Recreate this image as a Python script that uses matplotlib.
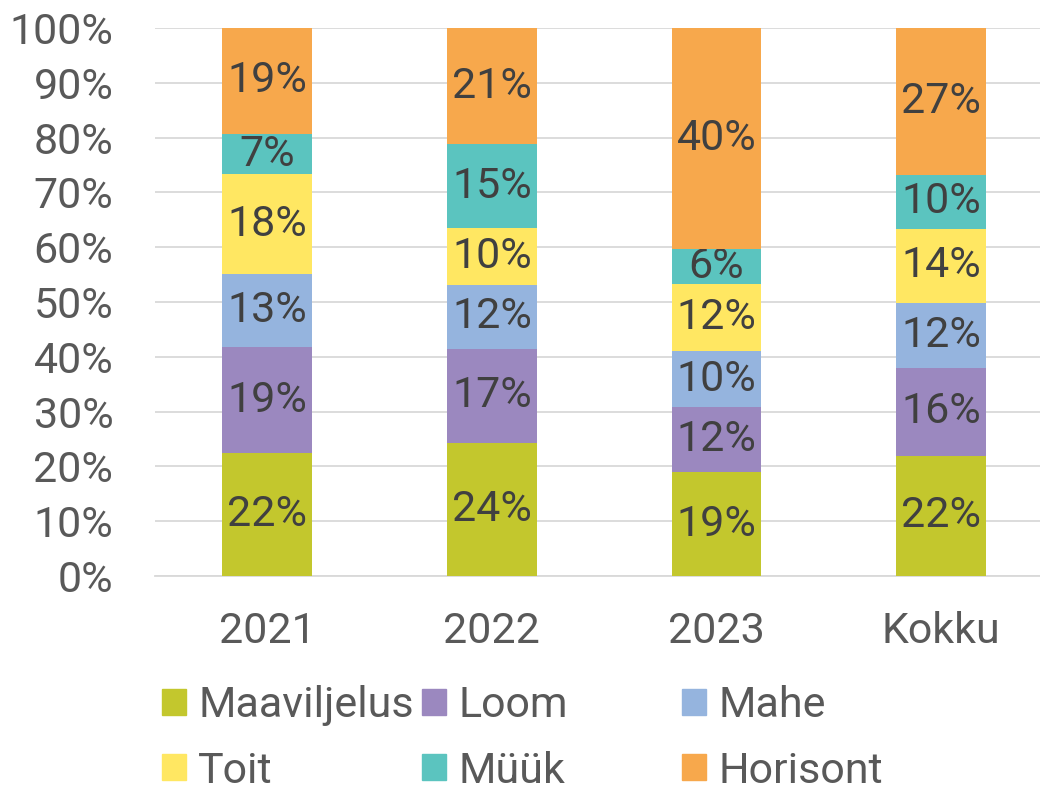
import numpy as np
import matplotlib.pyplot as plt
from matplotlib.patches import Patch

plt.rcParams['font.family'] = ['Roboto', 'DejaVu Sans']

# shares per year (percent of total)
years = ['2021', '2022', '2023', 'Kokku']
series = ['Maaviljelus', 'Loom', 'Mahe', 'Toit', 'Müük', 'Horisont']
maaviljelus = [22.5, 24.3, 18.9, 21.9]
loom = [19.2, 17.2, 11.9, 16.1]
mahe = [13.4, 11.6, 10.2, 11.8]
toit = [18.2, 10.4, 12.3, 13.6]
muuk = [7.4, 15.3, 6.3, 9.7]
horisont = [19.3, 21.2, 40.4, 26.9]
values = [maaviljelus, loom, mahe, toit, muuk, horisont]
colors = ['#C3C72D', '#9B88BF', '#95B4DE', '#FFE762', '#5BC4BF', '#F7A84C']

FS = 31
axis_col = '#595959'
label_col = '#404040'

fig = plt.figure(figsize=(10.4, 7.89), dpi=100)
ax = fig.add_axes([0.149, 0.270, 0.851, 0.6945])

x = np.arange(len(years))
bottom = np.zeros(len(years))
for name, vals, c in zip(series, values, colors):
    vals = np.array(vals)
    bars = ax.bar(x, vals, 0.4, bottom=bottom, color=c, label=name, zorder=3)
    ax.bar_label(bars, labels=[f'{v:.0f}%' for v in vals], label_type='center',
                 fontsize=FS, color=label_col)
    bottom += vals

ax.set_xlim(-0.5, 3.44)
ax.set_ylim(0, 100)
ax.set_yticks(np.arange(0, 101, 10))
ax.set_yticklabels([f'{t}%' for t in range(0, 101, 10)])
ax.set_xticks(x)
ax.set_xticklabels(years)
ax.tick_params(axis='both', length=0, labelsize=FS, labelcolor=axis_col)
ax.tick_params(axis='y', pad=30)
ax.tick_params(axis='x', pad=25)
ax.grid(axis='y', color='#D9D9D9', linewidth=1.3, zorder=0)
for s in ['left', 'right', 'top']:
    ax.spines[s].set_visible(False)
ax.spines['bottom'].set_color('#D9D9D9')
ax.spines['bottom'].set_linewidth(1.3)

# legend laid out row-wise in three columns
cols = [(0, 3), (1, 4), (2, 5)]
xs = [0.1558, 0.4058, 0.6558]
for (a, b), xpos in zip(cols, xs):
    handles = [Patch(color=colors[a]), Patch(color=colors[b])]
    leg = fig.legend(handles, [series[a], series[b]], loc='center left',
                     bbox_to_anchor=(xpos, 0.064), frameon=False, fontsize=FS,
                     handlelength=0.56, handleheight=0.56, handletextpad=0.28,
                     labelspacing=0.56, borderpad=0, borderaxespad=0)
    for t in leg.get_texts():
        t.set_color(axis_col)

fig.savefig('out.png', dpi=100)
